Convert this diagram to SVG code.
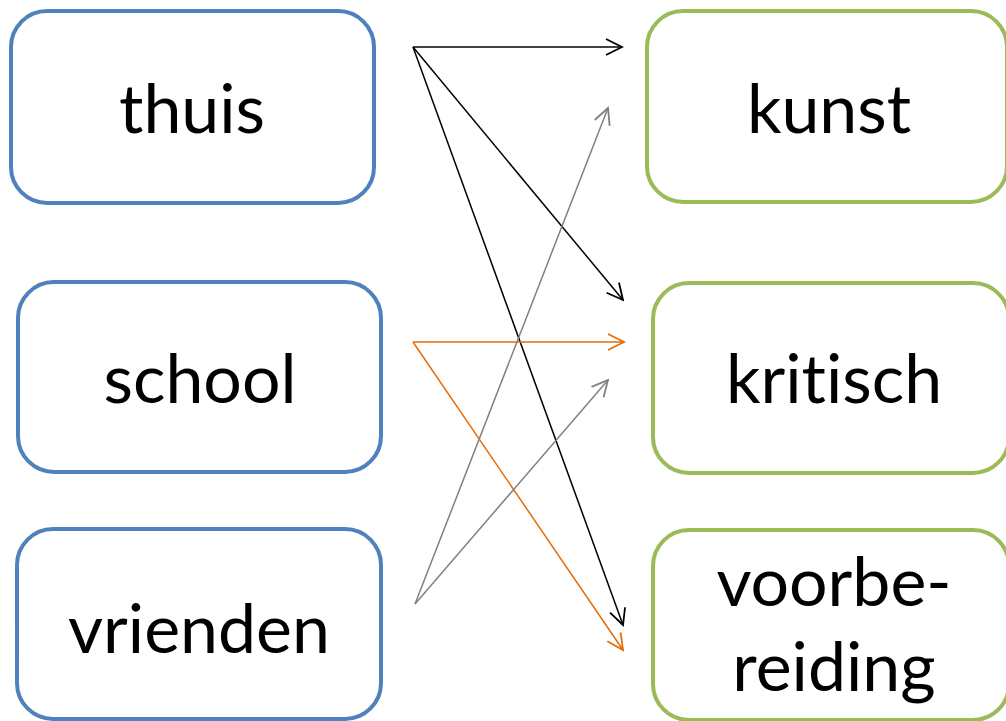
<svg xmlns="http://www.w3.org/2000/svg" width="1006" height="721" viewBox="0 0 1006 721">
<style>
.box{fill:#fff;stroke-width:4}
.blue{stroke:#4f81bd}
.green{stroke:#9bbb59}
.lbl{font-family:Lato,"Open Sans",sans-serif;font-size:68px;fill:#000;text-anchor:middle;font-variant-ligatures:none;font-feature-settings:"liga" 0}
.c{fill:none;stroke-width:1.5}
</style>
<defs>
<marker id="ak" viewBox="0 0 20 20" refX="18" refY="10" markerWidth="20" markerHeight="20" markerUnits="userSpaceOnUse" orient="auto"><path d="M2,2 L18,10 L2,18" fill="none" stroke="#000" stroke-width="1.8"/></marker>
<marker id="ag" viewBox="0 0 20 20" refX="18" refY="10" markerWidth="20" markerHeight="20" markerUnits="userSpaceOnUse" orient="auto"><path d="M2,2 L18,10 L2,18" fill="none" stroke="#808080" stroke-width="1.8"/></marker>
<marker id="ao" viewBox="0 0 20 20" refX="18" refY="10" markerWidth="20" markerHeight="20" markerUnits="userSpaceOnUse" orient="auto"><path d="M2,2 L18,10 L2,18" fill="none" stroke="#e46c0a" stroke-width="1.8"/></marker>
</defs>
<g id="thuis"><rect class="box blue" x="11" y="11" width="363" height="192" rx="36"/><text class="lbl" x="192" y="133">thuis</text></g>
<g id="school"><rect class="box blue" x="18" y="282" width="363" height="190" rx="36"/><text class="lbl" x="200" y="403">school</text></g>
<g id="vrienden"><rect class="box blue" x="17" y="529" width="364" height="190" rx="36"/><text class="lbl" x="199" y="653">vrienden</text></g>
<g id="kunst"><rect class="box green" x="647" y="11" width="360" height="191" rx="36"/><text class="lbl" x="829" y="133">kunst</text></g>
<g id="kritisch"><rect class="box green" x="653" y="283" width="356" height="190" rx="36"/><text class="lbl" x="834" y="403">kritisch</text></g>
<g id="voorbereiding"><rect class="box green" x="653" y="530" width="356" height="190" rx="36"/><text class="lbl" x="834" y="606">voorbe-</text><text class="lbl" x="834" y="691">reiding</text></g>
<g id="connectors">
<line class="c" stroke="#000" x1="413" y1="47" x2="622" y2="47" marker-end="url(#ak)"/>
<line class="c" stroke="#000" x1="413" y1="47" x2="623" y2="300" marker-end="url(#ak)"/>
<line class="c" stroke="#000" x1="413" y1="47" x2="623" y2="625" marker-end="url(#ak)"/>
<line class="c" stroke="#e46c0a" x1="413" y1="342" x2="624" y2="342" marker-end="url(#ao)"/>
<line class="c" stroke="#e46c0a" x1="413" y1="342" x2="623" y2="650" marker-end="url(#ao)"/>
<line class="c" stroke="#808080" x1="415" y1="604" x2="608" y2="108" marker-end="url(#ag)"/>
<line class="c" stroke="#808080" x1="415" y1="604" x2="608" y2="380" marker-end="url(#ag)"/>
</g>
</svg>
